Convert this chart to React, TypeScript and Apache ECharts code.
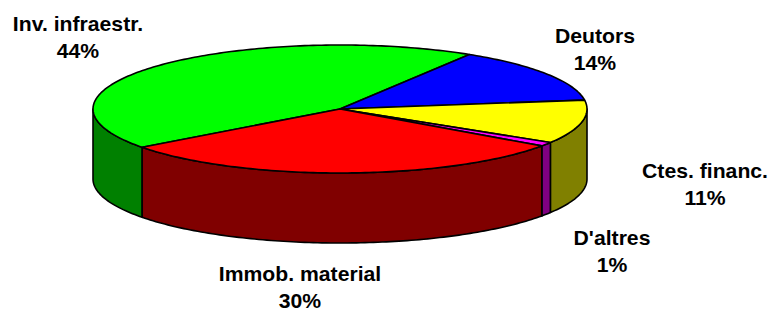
import React, { useEffect, useRef } from "react";
import * as echarts from "echarts";

const categories = ["Inv. infraestr.", "Deutors", "Ctes. financ.", "D'altres", "Immob. material"];
const values = [44, 14, 11, 1, 30];
const topColors = ["#00FF00", "#0000FF", "#FFFF00", "#FF00FF", "#FF0000"];
const sideColors = ["#008000", "#000080", "#808000", "#800080", "#800000"];
// label anchor (center of two-line block)
const labelPos: [number, number][] = [
  [78, 37],
  [595, 49],
  [705, 184],
  [612, 251],
  [300, 287],
];

const CX = 340;
const CY = 109;
const RX = 247;
const RY = 64;
const DEPTH = 70;
const START = 216.8; // degrees, clockwise

const total = values.reduce((a, b) => a + b, 0);

function pt(deg: number, dy = 0): number[] {
  const r = (deg * Math.PI) / 180;
  return [CX + RX * Math.cos(r), CY - RY * Math.sin(r) + dy];
}

function arcPoints(from: number, to: number, dy = 0): number[][] {
  const pts: number[][] = [];
  const n = Math.max(2, Math.ceil(Math.abs(to - from) / 1));
  for (let k = 0; k <= n; k++) {
    pts.push(pt(from + ((to - from) * k) / n, dy));
  }
  return pts;
}

export default function App() {
  const ref = useRef<HTMLDivElement>(null);
  useEffect(() => {
    document.body.style.margin = "0";
    const chart = echarts.init(ref.current!, null, { renderer: "svg" });
    const starts: number[] = [];
    let acc = START;
    values.forEach((v) => {
      starts.push(acc);
      acc -= (v / total) * 360;
    });

    const renderItem = (params: any, api: any) => {
      const i = params.dataIndex;
      const v = api.value(0) as number;
      const a1 = starts[i];
      const a2 = a1 - (v / total) * 360;
      const children: any[] = [];
      for (let k = -1; k <= 1; k++) {
        const lo = -180 + 360 * k;
        const hi = 360 * k;
        const s = Math.min(a1, hi);
        const e = Math.max(a2, lo);
        if (s > e) {
          const top = arcPoints(s, e);
          const bot = arcPoints(e, s, DEPTH);
          children.push({
            type: "polygon",
            z2: 1,
            shape: { points: top.concat(bot) },
            style: { fill: sideColors[i], stroke: "#000", lineWidth: 1.6, lineJoin: "round" },
          });
        }
      }
      const topPts = [[CX, CY]].concat(arcPoints(a1, a2));
      children.push({
        type: "polygon",
        z2: 10,
        shape: { points: topPts },
        style: { fill: topColors[i], stroke: "#000", lineWidth: 1.6, lineJoin: "round" },
      });
      return { type: "group", children };
    };

    const textStyle = (text: string) => ({
      text,
      fill: "#000",
      font: "bold 20px 'Liberation Sans', Arial, sans-serif",
      textAlign: "center",
      textVerticalAlign: "middle",
      lineHeight: 16,
    });

    const graphics: any[] = [];
    categories.forEach((c, i) => {
      const [x, y] = labelPos[i];
      graphics.push({ type: "text", x, y: y - 13.5, scaleX: 1.06, style: textStyle(c) });
      graphics.push({
        type: "text",
        x,
        y: y + 13.5,
        scaleX: 1.06,
        style: textStyle(Math.round((values[i] / total) * 100) + "%"),
      });
    });

    chart.setOption({
      animation: false,
      backgroundColor: "#fff",
      series: [
        {
          type: "custom",
          coordinateSystem: "none",
          renderItem,
          data: values,
          silent: true,
        },
      ],
      graphic: graphics,
    });
    return () => chart.dispose();
  }, []);
  return <div ref={ref} style={{ width: 769, height: 311 }} />;
}
